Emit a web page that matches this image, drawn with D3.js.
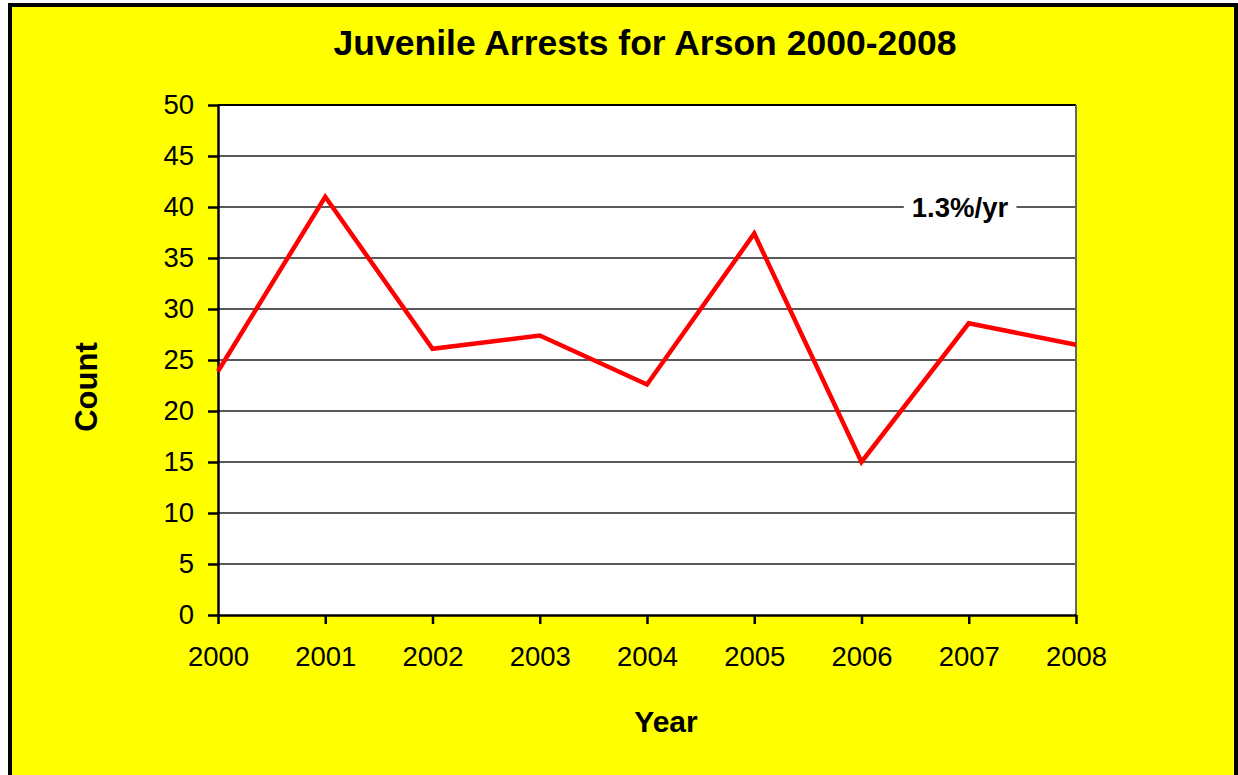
<!DOCTYPE html>
<html>
<head>
<meta charset="utf-8">
<script src="https://cdn.jsdelivr.net/npm/d3@7"></script>
<style>
  html, body { margin: 0; padding: 0; background: #ffffff; }
  svg { display: block; font-family: "Liberation Sans", Arial, sans-serif; }
</style>
</head>
<body>
<svg id="chart" width="1238" height="775"></svg>
<script>
const years = [2000, 2001, 2002, 2003, 2004, 2005, 2006, 2007, 2008];
const counts = [23.9, 41, 26.1, 27.4, 22.6, 37.4, 15, 28.6, 26.5];
const yTicks = [0, 5, 10, 15, 20, 25, 30, 35, 40, 45, 50];
const titleText = "Juvenile Arrests for Arson 2000-2008";
const xLabel = "Year";
const yLabel = "Count";
const trendLabel = "1.3%/yr";
const trendLabelValue = 40;

const svg = d3.select("#chart");
const plot = { left: 218, right: 1076, top: 105, bottom: 615 };

// Outer yellow frame
svg.append("rect").attr("x", 10).attr("y", 5).attr("width", 1226).attr("height", 820)
  .attr("fill", "#ffff00").attr("stroke", "#000").attr("stroke-width", 4);

const x = d3.scaleLinear().domain([years[0], years[years.length - 1]]).range([plot.left, plot.right]);
const y = d3.scaleLinear().domain([0, 50]).range([plot.bottom, plot.top]);

// Plot area
svg.append("rect").attr("x", plot.left).attr("y", plot.top)
  .attr("width", plot.right - plot.left).attr("height", plot.bottom - plot.top)
  .attr("fill", "#ffffff");

// Gridlines
svg.append("g").selectAll("line").data(yTicks.filter(d => d > 0)).join("line")
  .attr("x1", plot.left).attr("x2", plot.right)
  .attr("y1", d => y(d)).attr("y2", d => y(d))
  .attr("stroke", d => d === 50 ? "#000" : "#222").attr("stroke-width", d => d === 50 ? 2 : 1.6);

// Right border of plot
svg.append("line").attr("x1", plot.right).attr("x2", plot.right)
  .attr("y1", plot.top).attr("y2", plot.bottom)
  .attr("stroke", "#666").attr("stroke-width", 2);

// Y axis
const yAxis = svg.append("g").attr("transform", `translate(${plot.left},0)`)
  .call(d3.axisLeft(y).tickValues(yTicks).tickSize(10).tickPadding(14).tickSizeOuter(0));
yAxis.select(".domain").attr("stroke", "#000").attr("stroke-width", 2.5);
yAxis.selectAll(".tick line").attr("stroke", "#000").attr("stroke-width", 2.5);
yAxis.selectAll(".tick text").attr("font-size", 27.5).attr("fill", "#000")
  .attr("font-family", "Liberation Sans, Arial, sans-serif");

// X axis
const xAxis = svg.append("g").attr("transform", `translate(0,${plot.bottom})`)
  .call(d3.axisBottom(x).tickValues(years).tickFormat(d3.format("d")).tickSize(9).tickPadding(22).tickSizeOuter(0));
xAxis.select(".domain").attr("stroke", "#000").attr("stroke-width", 2.5);
xAxis.selectAll(".tick line").attr("stroke", "#000").attr("stroke-width", 2.5);
xAxis.selectAll(".tick text").attr("font-size", 27.5).attr("fill", "#000")
  .attr("font-family", "Liberation Sans, Arial, sans-serif");

// Trend label with white background
const tg = svg.append("g");
const tt = tg.append("text").attr("x", 960).attr("y", y(trendLabelValue)).attr("dy", "0.35em")
  .attr("text-anchor", "middle").attr("font-size", 27.5).attr("font-weight", "bold").text(trendLabel);
const bb = tt.node().getBBox();
tg.insert("rect", "text").attr("x", bb.x - 8).attr("y", bb.y).attr("width", bb.width + 16).attr("height", bb.height)
  .attr("fill", "#ffffff");

// Data line
const line = d3.line().x((d, i) => x(years[i])).y(d => y(d));
svg.append("path").datum(counts).attr("d", line)
  .attr("fill", "none").attr("stroke", "#ff0000").attr("stroke-width", 4.5)
  .attr("stroke-linejoin", "miter");

// Title
svg.append("text").attr("x", 645).attr("y", 55).attr("text-anchor", "middle")
  .attr("font-size", 35.5).attr("font-weight", "bold").text(titleText);

// Axis titles
svg.append("text").attr("x", 666).attr("y", 732).attr("text-anchor", "middle")
  .attr("font-size", 30).attr("font-weight", "bold").text(xLabel);
svg.append("text").attr("transform", "translate(97,387) rotate(-90)").attr("text-anchor", "middle")
  .attr("font-size", 31).attr("font-weight", "bold").text(yLabel);
</script>
</body>
</html>
